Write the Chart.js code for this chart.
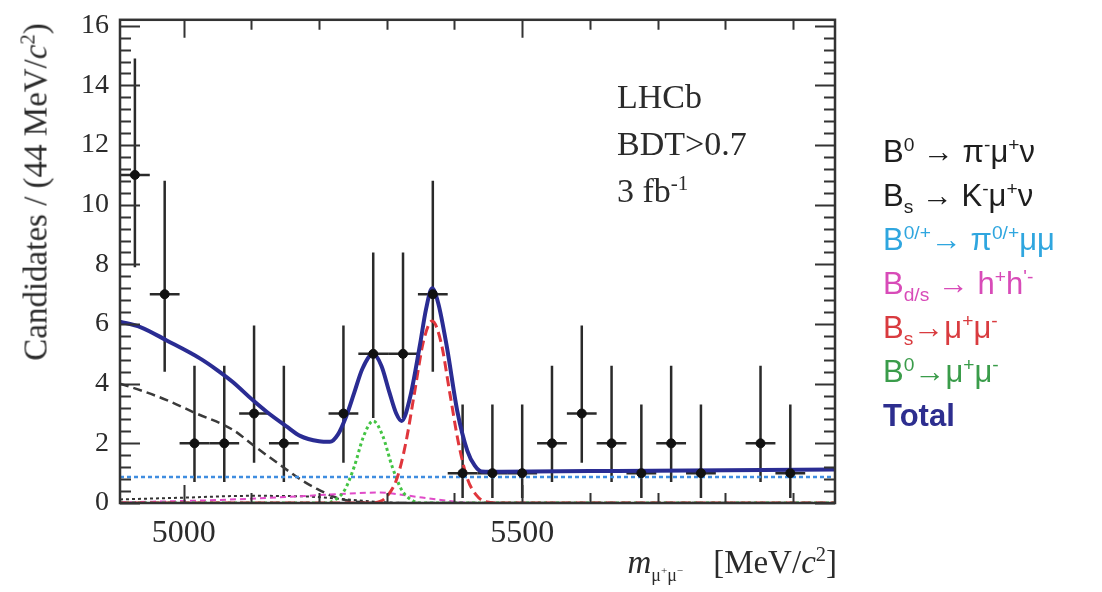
<!DOCTYPE html>
<html>
<head>
<meta charset="utf-8">
<script src="https://cdn.jsdelivr.net/npm/chart.js@4"></script>
<style>
  body { margin: 0; background: #fff; }
  #wrap { position: relative; width: 1102px; height: 592px; font-family: "Liberation Serif", serif; color: #2b2b2b; }
  #chart { position: absolute; left: 0; top: 0; }
  sup, sub { line-height: 0; font-size: 62%; }
  .ytitle { position: absolute; left: 36px; top: 192px; transform: translate(-50%, -50%) rotate(-90deg); font-size: 33px; white-space: nowrap; }
  .xtitle { position: absolute; right: 265px; top: 542px; font-size: 33px; line-height: 40px; white-space: nowrap; }
  .xtitle .mu { font-size: 18px; vertical-align: -8px; margin-right: 30px; }
  .lhcb { position: absolute; left: 617px; top: 73px; font-size: 34px; line-height: 47px; }
  #legend { position: absolute; left: 883px; top: 130px; font-family: "Liberation Sans", sans-serif; font-size: 31px; line-height: 44px; white-space: nowrap; }
</style>
</head>
<body>
<div id="wrap">
  <canvas id="chart" width="1102" height="592"></canvas>
  <div class="ytitle">Candidates / (44 MeV/<i>c</i><sup>2</sup>)</div>
  <div class="xtitle"><i>m</i><span class="mu">μ<sup>+</sup>μ<sup>−</sup></span>[MeV/<i>c</i><sup>2</sup>]</div>
  <div class="lhcb">LHCb<br>BDT&gt;0.7<br>3 fb<sup>-1</sup></div>
  <div id="legend"></div>
</div>
<script>
"use strict";

//mätpunkter: bincentrum (MeV/c2), antal kandidater och felstaplar
const binCentres = [4928, 4972, 5016, 5060, 5104, 5148, 5192, 5236, 5280, 5324, 5368, 5412,
                    5456, 5500, 5544, 5588, 5632, 5676, 5720, 5764, 5808, 5852, 5896, 5940];
const counts  = [11, 7, 2, 2, 3, 2, 0, 3, 5, 5, 7, 1, 1, 1, 2, 3, 2, 1, 2, 1, 0, 2, 1, 0];
const errLow  = [7.9, 4.4, 0.7, 0.7, 1.35, 0.7, 0, 1.35, 2.85, 2.85, 4.4, 0.17, 0.17, 0.17, 0.7, 1.35, 0.7, 0.17, 0.7, 0.17, 0, 0.7, 0.17, 0];
const errHigh = [14.9, 10.8, 4.6, 4.6, 5.95, 4.6, 0, 5.95, 8.4, 8.4, 10.8, 3.3, 3.3, 3.3, 4.6, 5.95, 4.6, 3.3, 4.6, 3.3, 0, 4.6, 3.3, 0];
const halfBin = 22;

//fitkomponenter (massa, kandidater)
const totalMass = [4906, 4936, 4975, 5024, 5050, 5073, 5102, 5123, 5153, 5172, 5200, 5216, 5228, 5240, 5252, 5264, 5280,
                   5292, 5304, 5314, 5322, 5334, 5349, 5358, 5367, 5376, 5389, 5404, 5419, 5430, 5440, 5470, 5600, 5800, 5962];
const totalVals = [6.08, 5.9, 5.45, 4.85, 4.45, 4.05, 3.45, 3.05, 2.55, 2.25, 2.07, 2.05, 2.3, 2.9, 3.7, 4.5, 5.0,
                   4.6, 3.7, 3.0, 2.75, 3.5, 5.3, 6.5, 7.2, 6.7, 5.2, 3.1, 1.75, 1.25, 1.06, 1.05, 1.07, 1.1, 1.12];

const piMuNuMass = [4906, 4940, 4975, 5014, 5073, 5102, 5138, 5172, 5197, 5230, 5260, 5290, 5962];
const piMuNuVals = [4.0, 3.75, 3.45, 3.05, 2.45, 1.95, 1.35, 0.8, 0.47, 0.15, 0.03, 0, 0];

const kMuNuMass = [4906, 5000, 5100, 5180, 5240, 5290, 5340, 5962];
const kMuNuVals = [0.12, 0.18, 0.24, 0.22, 0.12, 0.03, 0, 0];

const piMuMuMass = [4906, 5962];
const piMuMuVals = [0.87, 0.87];

const hhMass = [4906, 5050, 5150, 5230, 5290, 5330, 5380, 5430, 5962];
const hhVals = [0.02, 0.1, 0.2, 0.3, 0.35, 0.25, 0.1, 0, 0];

const bsMass = [4906, 5270, 5290, 5302, 5315, 5328, 5341, 5354, 5367, 5380, 5393, 5406, 5419, 5432, 5445, 5470, 5962];
const bsVals = [0, 0, 0.05, 0.27, 0.82, 2.0, 3.7, 5.4, 6.1, 5.4, 3.7, 2.0, 0.82, 0.27, 0.05, 0, 0];

const bdMass = [4906, 5210, 5224, 5238, 5252, 5266, 5280, 5294, 5308, 5322, 5336, 5350, 5962];
const bdVals = [0, 0, 0.11, 0.44, 1.22, 2.25, 2.75, 2.25, 1.22, 0.44, 0.11, 0, 0];

//axlar
const xMin = 4906;
const xMax = 5962;
const yMax = 16.2;
const xTicks = [5000, 5500];
const yTicks = [0, 2, 4, 6, 8, 10, 12, 14, 16];

//förklaring
const legendLabels = [
    "B<sup>0</sup> → π<sup>-</sup>μ<sup>+</sup>ν",
    "B<sub>s</sub> → K<sup>-</sup>μ<sup>+</sup>ν",
    "B<sup>0/+</sup>→ π<sup>0/+</sup>μμ",
    "B<sub>d/s</sub> → h<sup>+</sup>h<sup>'-</sup>",
    "B<sub>s</sub>→μ<sup>+</sup>μ<sup>-</sup>",
    "B<sup>0</sup>→μ<sup>+</sup>μ<sup>-</sup>",
    "<b>Total</b>"
];
const legendColors = ["#1e1e1e", "#1e1e1e", "#2fa6df", "#d84bb8", "#d93b3f", "#3a9c4a", "#2d2e8f"];

const frameColor = "#333";

let legendEl = document.getElementById("legend");
legendEl.innerHTML = legendLabels
    .map((txt, i) => `<div style="color:${legendColors[i]}">${txt}</div>`)
    .join("");

function toPoints(mass, vals) {
    return mass.map((m, i) => ({ x: m, y: vals[i] }));
}

//felstaplar ritas under kurvorna
const errorBars = {
    id: "errorBars",
    beforeDatasetsDraw(chart) {
        const { ctx, scales: { x, y } } = chart;
        ctx.save();
        ctx.strokeStyle = "#2a2a2a";
        ctx.lineWidth = 2.5;
        binCentres.forEach((m, i) => {
            if (counts[i] === 0) return;
            const px = x.getPixelForValue(m);
            const py = y.getPixelForValue(counts[i]);
            ctx.beginPath();
            ctx.moveTo(px, y.getPixelForValue(errLow[i]));
            ctx.lineTo(px, y.getPixelForValue(errHigh[i]));
            ctx.moveTo(x.getPixelForValue(m - halfBin), py);
            ctx.lineTo(x.getPixelForValue(m + halfBin), py);
            ctx.stroke();
        });
        ctx.restore();
    }
};

//ram med tickmarkeringar på insidan
const frame = {
    id: "frame",
    afterDatasetsDraw(chart) {
        const { ctx, chartArea: a, scales: { x, y } } = chart;
        ctx.save();
        ctx.strokeStyle = frameColor;
        ctx.lineWidth = 2.5;
        ctx.strokeRect(a.left, a.top, a.right - a.left, a.bottom - a.top);
        ctx.lineWidth = 2;
        ctx.beginPath();
        for (let i = 0; i * 0.4 <= yMax; i++) {
            const py = Math.round(y.getPixelForValue(i * 0.4)) + 0.5;
            const len = i % 5 === 0 ? 20 : 11;
            ctx.moveTo(a.left, py);
            ctx.lineTo(a.left + len, py);
            ctx.moveTo(a.right, py);
            ctx.lineTo(a.right - len, py);
        }
        for (let m = 5000; m <= xMax; m += 100) {
            const px = Math.round(x.getPixelForValue(m)) + 0.5;
            const len = m % 500 === 0 ? 18 : 10;
            ctx.moveTo(px, a.bottom);
            ctx.lineTo(px, a.bottom - len);
            ctx.moveTo(px, a.top);
            ctx.lineTo(px, a.top + len);
        }
        ctx.stroke();
        ctx.restore();
    }
};

function curve(label, mass, vals, color, width, dash) {
    return {
        label: label,
        data: toPoints(mass, vals),
        borderColor: color,
        borderWidth: width,
        borderDash: dash,
        pointRadius: 0,
        fill: false,
        cubicInterpolationMode: "monotone"
    };
}

const dataPoints = binCentres
    .map((m, i) => ({ x: m, y: counts[i] }))
    .filter(p => p.y > 0);

new Chart(document.getElementById("chart"), {
    type: "line",
    data: {
        datasets: [
            {
                label: "Data",
                data: dataPoints,
                showLine: false,
                pointRadius: 4.5,
                pointBackgroundColor: "#111",
                pointBorderColor: "#111"
            },
            curve("Total", totalMass, totalVals, "#2a2c93", 4, []),
            curve("Bs → μμ", bsMass, bsVals, "#e0363c", 3, [10, 5]),
            curve("B0 → μμ", bdMass, bdVals, "#44c444", 3, [3, 3]),
            curve("Bd/s → hh", hhMass, hhVals, "#e04bc8", 2, [6, 4]),
            curve("B0/+ → π0/+μμ", piMuMuMass, piMuMuVals, "#3f8de0", 2.5, [4, 3]),
            curve("Bs → Kμν", kMuNuMass, kMuNuVals, "#333", 2, [3, 3]),
            curve("B0 → πμν", piMuNuMass, piMuNuVals, "#3a3a3a", 2.5, [9, 5])
        ]
    },
    options: {
        responsive: false,
        animation: false,
        layout: { padding: { left: 0, top: 17, right: 267, bottom: 0 } },
        plugins: {
            legend: { display: false },
            tooltip: { enabled: false }
        },
        scales: {
            x: {
                type: "linear",
                min: xMin,
                max: xMax,
                grid: { display: false },
                border: { display: false },
                afterBuildTicks: s => { s.ticks = xTicks.map(v => ({ value: v })); },
                afterFit: s => { s.height = 89; },
                ticks: {
                    padding: 3,
                    maxRotation: 0,
                    color: "#2b2b2b",
                    font: { family: "Liberation Serif", size: 32 },
                    callback: v => String(v)
                }
            },
            y: {
                min: 0,
                max: yMax,
                grid: { display: false },
                border: { display: false },
                afterBuildTicks: s => { s.ticks = yTicks.map(v => ({ value: v })); },
                afterFit: s => { s.width = 120; },
                ticks: {
                    padding: 3,
                    color: "#2b2b2b",
                    font: { family: "Liberation Serif", size: 28 },
                    callback: v => String(v)
                }
            }
        }
    },
    plugins: [errorBars, frame]
});
</script>
</body>
</html>
